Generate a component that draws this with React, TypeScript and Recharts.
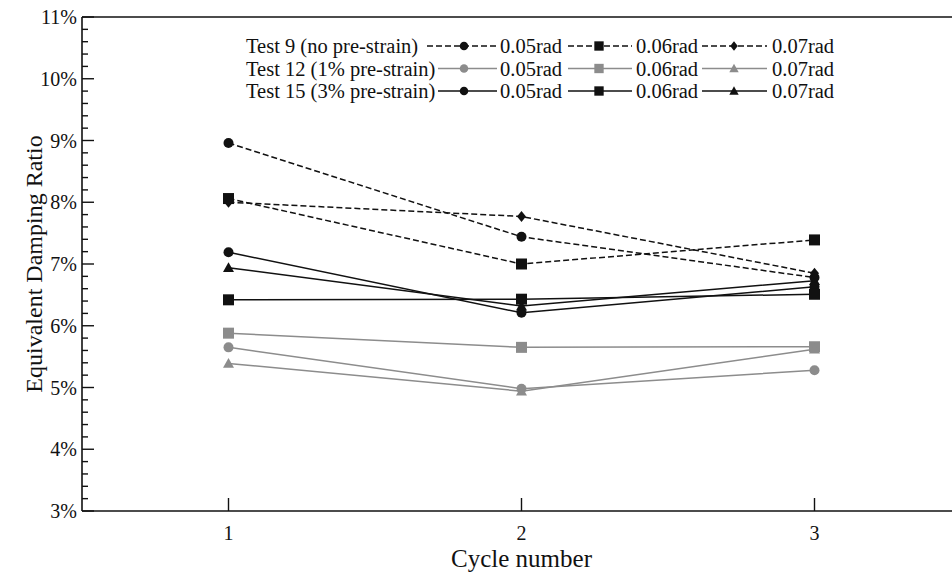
import React from "react";
import { LineChart, Line, XAxis, YAxis, ReferenceLine } from "recharts";

const cycles = [1, 2, 3];
const t9_05 = [8.96, 7.44, 6.78];
const t9_06 = [8.06, 7.0, 7.39];
const t9_07 = [8.0, 7.77, 6.85];
const t12_05 = [5.65, 4.98, 5.28];
const t12_06 = [5.88, 5.65, 5.66];
const t12_07 = [5.39, 4.94, 5.62];
const t15_05 = [7.19, 6.21, 6.63];
const t15_06 = [6.42, 6.43, 6.51];
const t15_07 = [6.94, 6.32, 6.73];

const majorTicks = [3, 4, 5, 6, 7, 8, 9, 10, 11];
const minorTicks = majorTicks.slice(0, -1).flatMap(m => [0.2, 0.4, 0.6, 0.8].map(f => +(m + f).toFixed(1)));
const xTicks = [1, 2, 3];
const rateLabels = ["0.05rad", "0.06rad", "0.07rad"];

const BLACK = "#111";
const GREY = "#8c8c8c";
const DASH = "6 3";
const FONT = "'Liberation Serif', 'Times New Roman', serif";

const series = [
  { key: "t12_05", values: t12_05, color: GREY, dash: undefined, shape: "circle" },
  { key: "t12_06", values: t12_06, color: GREY, dash: undefined, shape: "square" },
  { key: "t12_07", values: t12_07, color: GREY, dash: undefined, shape: "triangle" },
  { key: "t15_05", values: t15_05, color: BLACK, dash: undefined, shape: "circle" },
  { key: "t15_06", values: t15_06, color: BLACK, dash: undefined, shape: "square" },
  { key: "t15_07", values: t15_07, color: BLACK, dash: undefined, shape: "triangle" },
  { key: "t9_05", values: t9_05, color: BLACK, dash: DASH, shape: "circle" },
  { key: "t9_06", values: t9_06, color: BLACK, dash: DASH, shape: "square" },
  { key: "t9_07", values: t9_07, color: BLACK, dash: DASH, shape: "diamond" },
];

const legendRows = [
  { label: "Test 9 (no pre-strain)", color: BLACK, dash: DASH, shapes: ["circle", "square", "diamond"], start: 427 },
  { label: "Test 12 (1% pre-strain)", color: GREY, dash: undefined, shapes: ["circle", "square", "triangle"], start: 438 },
  { label: "Test 15 (3% pre-strain)", color: BLACK, dash: undefined, shapes: ["circle", "square", "triangle"], start: 438 },
];

const chartData = cycles.map((c, i) => {
  const row: any = { cycle: c };
  series.forEach(s => { row[s.key] = s.values[i]; });
  return row;
});

const Marker = ({ shape, cx, cy, color, s = 1 }: any) => {
  if (cx == null || cy == null) return null;
  if (shape === "circle") return <circle cx={cx} cy={cy} r={5 * s} fill={color} />;
  if (shape === "square") {
    const h = 5.5 * s;
    return <rect x={cx - h} y={cy - h} width={2 * h} height={2 * h} fill={color} />;
  }
  if (shape === "diamond") {
    const w = 4.5 * s, h = 5.5 * s;
    return <polygon points={`${cx},${cy - h} ${cx + w},${cy} ${cx},${cy + h} ${cx - w},${cy}`} fill={color} />;
  }
  const h = 5.5 * s;
  return <polygon points={`${cx},${cy - h} ${cx + h},${cy + h * 0.8} ${cx - h},${cy + h * 0.8}`} fill={color} />;
};

const YTick = ({ x, y, payload }: any) => {
  const major = majorTicks.includes(payload.value);
  return (
    <g>
      <line x1={x} x2={x + (major ? 12 : 6)} y1={y} y2={y} stroke={BLACK} strokeWidth={1.4} />
      {major && (
        <text x={x - 5} y={y} textAnchor="end" dominantBaseline="central" fontFamily={FONT} fontSize={20} fill={BLACK}>
          {payload.value}%
        </text>
      )}
    </g>
  );
};

const XTick = ({ x, y, payload }: any) => (
  <g>
    <line x1={x} x2={x} y1={y} y2={y - 13} stroke={BLACK} strokeWidth={1.4} />
    <text x={x} y={y + 22} textAnchor="middle" dominantBaseline="central" fontFamily={FONT} fontSize={20} fill={BLACK}>
      {payload.value}
    </text>
  </g>
);

const LegendOverlay = () => {
  const rowsY = [46, 68.5, 91];
  const samples = [
    { x1: 0, x2: 497, m: 464, tx: 500 },
    { x1: 568, x2: 632, m: 599, tx: 636 },
    { x1: 702, x2: 767, m: 734, tx: 772 },
  ];
  return (
    <svg width={952} height={120} style={{ position: "absolute", left: 0, top: 0 }}>
      {legendRows.map((r, ri) => (
        <g key={r.label}>
          <text x={246} y={rowsY[ri]} dominantBaseline="central" fontFamily={FONT} fontSize={20.5} fill={BLACK}>
            {r.label}
          </text>
          {samples.map((s, si) => (
            <g key={si}>
              <line x1={si === 0 ? r.start : s.x1} x2={s.x2} y1={rowsY[ri]} y2={rowsY[ri]} stroke={r.color} strokeWidth={1.4} strokeDasharray={r.dash} />
              <Marker shape={r.shapes[si]} cx={s.m} cy={rowsY[ri]} color={r.color} s={0.85} />
              <text x={s.tx} y={rowsY[ri]} dominantBaseline="central" fontFamily={FONT} fontSize={20.5} fill={BLACK}>
                {rateLabels[si]}
              </text>
            </g>
          ))}
        </g>
      ))}
    </svg>
  );
};

export default function App() {
  return (
    <div style={{ position: "fixed", left: 0, top: 0, width: 952, height: 576, overflow: "hidden", background: "#fff" }}>
      <LineChart width={980} height={576} data={chartData} margin={{ top: 17, right: 19, bottom: 0, left: 0 }}>
        <XAxis
          dataKey="cycle"
          type="number"
          domain={[0.5, 3.5]}
          ticks={xTicks}
          height={65}
          tickSize={0}
          tickMargin={0}
          tickLine={false}
          axisLine={{ stroke: BLACK, strokeWidth: 1.6 }}
          tick={<XTick />}
          label={{
            content: ({ viewBox }: any) => (
              <text x={viewBox.x + viewBox.width / 2} y={558} textAnchor="middle" dominantBaseline="central" fontFamily={FONT} fontSize={25} fill={BLACK}>
                Cycle number
              </text>
            ),
          }}
        />
        <YAxis
          type="number"
          domain={[3, 11]}
          ticks={[...majorTicks, ...minorTicks].sort((a, b) => a - b)}
          width={82}
          tickSize={0}
          tickMargin={0}
          tickLine={false}
          interval={0}
          axisLine={{ stroke: BLACK, strokeWidth: 1.6 }}
          tick={<YTick />}
          label={{
            content: ({ viewBox }: any) => {
              const cx = 34;
              const cy = viewBox.y + viewBox.height / 2;
              return (
                <text x={cx} y={cy} transform={`rotate(-90 ${cx} ${cy})`} textAnchor="middle" dominantBaseline="central" fontFamily={FONT} fontSize={24} fill={BLACK}>
                  Equivalent Damping Ratio
                </text>
              );
            },
          }}
        />
        <ReferenceLine y={11} stroke={BLACK} strokeWidth={1.6} />
        {series.map(s => (
          <Line
            key={s.key}
            dataKey={s.key}
            type="linear"
            stroke={s.color}
            strokeWidth={1.5}
            strokeDasharray={s.dash}
            isAnimationActive={false}
            dot={(p: any) => <Marker key={`${s.key}-${p.index}`} shape={s.shape} cx={p.cx} cy={p.cy} color={s.color} />}
            activeDot={false}
          />
        ))}
      </LineChart>
      <LegendOverlay />
    </div>
  );
}
